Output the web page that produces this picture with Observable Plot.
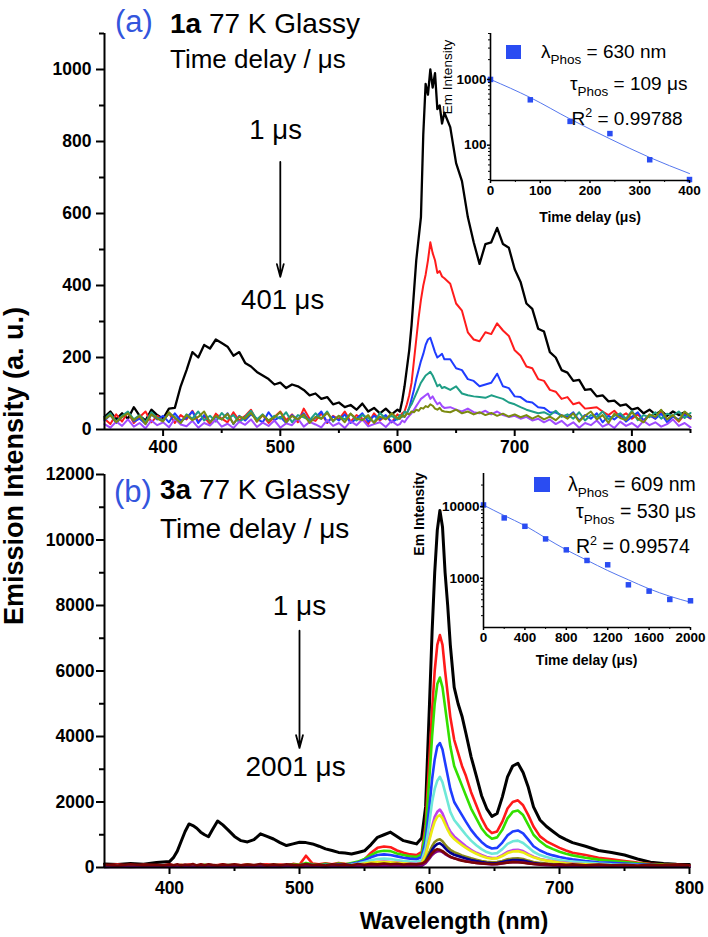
<!DOCTYPE html>
<html><head><meta charset="utf-8">
<script src="https://cdn.jsdelivr.net/npm/d3@7"></script>
<script src="https://cdn.jsdelivr.net/npm/@observablehq/plot@0.6"></script>
<style>
body{margin:0;background:#fff;}
#root{position:relative;width:708px;height:937px;overflow:hidden;font-family:"Liberation Sans",Arial,sans-serif;color:#000;}
.t{position:absolute;white-space:nowrap;line-height:1;}
.t sub{font-size:13.5px;vertical-align:-6px;line-height:1;}
.t sup{font-size:12.5px;vertical-align:8px;line-height:1;}
svg{overflow:visible}
</style></head><body><div id="root"></div>
<script>
// ---------- Panel (a): 1a, delays 1..401 us ----------
const wlA = [350,355,360,365,370,375,380,385,390,395,400,405,410,415,420,425,430,435,440,445,450,455,460,465,470,475,480,485,490,495,500,505,510,515,520,525,530,535,540,545,550,555,560,565,570,575,580,585,590,595,600,
602,604,606,608,610,612,614,616,618,620,622,624,626,628,630,632,634,636,638,640,
645,650,655,660,665,670,675,680,685,690,695,700,705,710,715,720,725,730,735,740,745,750,755,760,765,770,775,780,785,790,795,800,805,810,815,820,825,830,835,840,845,850];
const a1us = [35,50,28,45,30,62,38,25,55,40,30,58,60,
120,165,215,200,235,225,250,240,230,205,215,185,175,160,150,140,125,130,115,125,120,110,95,100,85,90,70,75,62,68,55,72,50,60,45,58,42,55,
50,80,120,170,220,290,380,470,530,590,820,960,930,1000,950,990,890,900,850,880,
840,740,690,590,520,460,515,520,560,515,505,445,410,350,335,280,272,215,200,165,158,135,138,110,112,92,95,78,80,66,70,55,60,45,55,42,52,38,50,40,48,36];
const a81us = [30,15,42,22,48,18,35,50,20,38,25,45,18,40,28,52,22,36,15,44,30,20,48,25,38,55,22,40,18,35,50,26,42,20,58,30,24,45,18,38,28,50,22,40,30,15,45,25,38,20,42,
35,45,50,70,95,130,190,250,310,360,400,430,470,520,490,470,435,440,425,420,
405,350,330,270,250,245,270,265,295,275,260,220,205,175,170,140,135,110,105,85,90,70,75,58,60,62,50,40,52,35,45,30,42,25,40,30,48,28,38,22,42,30];
const a161us = [25,40,18,35,48,22,30,15,42,28,38,20,45,25,32,50,18,40,22,35,28,45,15,38,25,42,30,20,48,26,35,18,40,28,45,22,33,50,20,36,25,42,18,30,45,22,38,28,40,20,30,
30,40,35,45,60,85,110,140,165,190,210,235,250,255,235,215,200,205,210,195,
195,170,165,140,135,120,125,130,155,120,115,92,90,78,75,62,60,48,47,40,35,48,25,40,30,45,20,38,28,42,22,35,48,25,40,30,44,20,36,28,40,32];
const a241us = [30,45,22,38,50,28,40,20,48,32,26,44,35,18,42,30,50,25,38,22,46,30,40,20,35,52,28,42,24,38,30,48,20,40,34,26,45,30,50,22,38,28,44,25,40,32,20,46,30,38,28,
40,35,50,45,60,70,85,100,115,130,140,150,155,160,150,135,120,125,115,118,
110,120,100,95,92,90,88,95,90,85,75,70,62,55,50,45,48,40,52,35,42,30,48,25,40,35,50,28,38,45,30,52,26,40,34,48,30,44,38,50,32,46];
const a321us = [15,5,22,10,28,8,18,3,25,12,20,6,30,14,9,24,5,18,11,27,8,16,4,22,13,28,7,19,10,25,5,17,12,30,8,21,14,6,26,10,18,4,23,12,28,9,15,20,7,24,12,
15,25,20,30,38,45,55,65,75,85,90,95,100,85,92,80,70,75,65,60,
62,55,50,58,48,45,52,42,50,40,35,38,30,35,25,30,20,28,15,24,10,20,5,18,12,25,8,16,4,22,10,18,6,24,12,20,8,15,28,10,18,6];
const a401us = [28,40,20,35,45,25,38,15,42,30,22,48,32,18,40,26,35,50,20,38,28,44,16,36,30,46,22,40,25,34,48,20,38,28,42,18,35,30,46,24,38,20,44,30,26,40,18,36,28,45,32,
30,40,35,45,42,50,48,55,52,60,58,65,62,70,66,58,55,60,52,50,
48,55,45,50,42,48,40,46,38,44,36,42,34,40,30,38,28,36,26,40,30,45,22,38,50,28,40,18,44,32,26,48,30,20,42,35,55,28,40,24,50,35];
const colorsA = ["#000000","#ff1c1c","#1f3cff","#1f9e86","#a14cff","#7b8a10"];

// ---------- Panel (b): 3a, delays 1..2001 us ----------
const wlB = [350,360,370,380,390,395,400,403,406,409,412,415,418,421,424,427,430,433,437,441,445,
450,455,460,465,470,475,480,485,490,495,500,505,510,515,520,525,530,535,540,545,550,555,560,565,570,575,580,585,590,
594,597,600,602,604,606,608,610,612,614,616,619,622,625,628,
632,636,640,644,648,652,656,660,664,668,672,676,680,685,690,695,700,705,710,720,730,740,750,760,770,780,790,800];
const b1us = [110,90,120,100,150,170,180,300,500,800,1100,1330,1280,1200,1080,1000,940,1150,1420,1300,1150,
950,820,780,850,1030,950,870,760,670,720,770,760,720,650,570,520,460,440,410,460,510,700,920,1000,1080,950,820,770,720,
900,1850,5000,7200,9000,10300,10900,10400,9000,8000,6800,5500,5000,4620,4100,
3380,2800,2200,1800,1560,1650,2150,2770,3100,3180,2900,2450,1850,1450,1250,1100,950,850,760,650,520,460,380,260,160,120,100,90];
const b201us = [60,90,50,80,70,60,90,70,50,85,60,90,70,55,95,65,80,60,75,90,60,
85,70,95,60,80,100,75,90,65,110,85,360,120,95,130,100,140,110,90,160,250,450,600,640,620,520,450,400,380,
480,1300,3400,4800,6000,6800,7100,6800,6000,5300,4600,3900,3500,3100,2800,
2300,1900,1500,1200,1050,1100,1400,1800,2000,2050,1900,1600,1250,950,800,700,600,520,450,380,300,250,200,150,110,90,80,70];
const b401us = [50,70,40,60,55,45,70,60,40,75,50,65,45,70,55,80,50,60,65,50,75,
70,55,80,60,75,50,85,65,70,90,80,140,95,70,110,85,120,100,140,180,260,380,480,510,500,430,380,340,320,
400,1100,2800,4000,5000,5600,5800,5500,4900,4300,3700,3100,2800,2500,2200,
1800,1500,1200,1000,880,920,1150,1500,1700,1740,1600,1300,1000,800,650,560,480,420,370,300,240,200,170,130,100,80,70,60];
const b601us = [40,60,35,55,45,50,40,55,35,60,45,50,40,65,45,55,40,50,45,60,40,
55,45,60,40,65,50,55,45,60,70,65,90,75,60,85,70,95,80,110,150,220,310,380,400,380,340,300,270,250,
320,800,1900,2700,3300,3700,3800,3600,3200,2800,2400,2000,1800,1600,1400,
1150,950,780,650,580,600,760,980,1100,1130,1040,850,650,520,430,370,320,280,250,200,160,140,120,100,80,60,55,50];
const b801us = [35,50,30,45,40,30,45,40,30,50,35,45,30,50,40,45,35,40,50,35,45,
40,50,35,55,45,40,50,35,55,45,50,60,45,55,50,65,55,70,90,120,170,220,260,270,260,230,200,180,170,
220,600,1400,2000,2400,2650,2770,2600,2300,2000,1700,1450,1300,1150,1000,
820,680,560,470,420,440,560,720,800,820,750,620,480,380,320,270,230,200,180,150,120,100,90,75,60,50,45,40];
const b1001us = [30,45,25,40,35,40,30,35,45,30,40,25,45,35,30,40,35,45,30,40,35,
45,35,40,30,50,35,45,40,35,50,45,70,50,40,55,45,60,50,65,80,110,140,170,180,170,150,130,120,110,
140,400,900,1250,1550,1700,1770,1650,1450,1250,1100,950,850,750,650,
540,450,380,320,290,300,380,480,530,540,500,410,330,260,220,190,160,140,120,100,85,70,60,50,45,40,35,30];
const b1201us = [25,40,30,45,35,30,40,35,30,45,40,30,40,35,45,30,40,35,40,30,45,
35,40,30,45,35,40,50,35,45,40,50,60,45,55,40,50,45,60,70,90,120,150,165,170,160,140,125,110,100,
130,380,850,1150,1400,1550,1600,1500,1320,1150,1000,870,770,680,600,
500,420,350,300,270,280,350,440,490,500,460,380,310,250,210,180,150,130,115,95,80,70,60,50,45,40,35,30];
const b1401us = [25,35,20,30,28,35,25,30,22,35,28,30,25,35,30,28,32,25,30,35,25,
30,25,35,28,32,25,35,30,28,35,30,40,32,35,30,38,32,40,45,55,70,85,95,100,95,85,75,70,65,
80,220,480,650,780,840,860,800,700,610,540,470,420,370,330,
280,240,200,175,160,165,200,250,275,280,260,210,170,140,120,100,90,80,70,60,50,45,40,35,32,30,28,25];
const b1601us = [20,30,25,28,22,30,25,28,22,30,25,28,22,30,25,28,24,30,25,30,22,
28,24,30,25,28,22,30,26,28,30,25,35,28,30,26,32,28,35,38,45,55,68,75,80,75,68,60,55,52,
65,180,400,540,650,720,740,680,590,510,450,390,350,310,275,
230,195,165,145,130,135,165,205,225,230,210,175,140,115,95,85,75,65,58,50,42,38,34,30,28,26,24,22];
const b1801us = [18,25,20,24,18,22,20,24,18,22,20,25,18,22,20,24,18,22,20,24,18,
22,20,25,18,22,20,24,18,22,25,20,28,22,25,20,26,22,28,30,35,42,50,55,58,55,50,45,42,40,
50,130,280,380,450,490,505,470,410,360,320,280,250,220,195,
165,140,120,105,95,98,120,150,165,168,155,130,105,85,72,62,55,48,43,38,32,28,25,22,20,18,17,16];
const b2001us = [90,60,100,70,85,65,95,70,100,60,90,75,105,65,95,70,100,80,60,95,75,
100,65,90,75,105,60,95,70,100,80,65,105,75,90,60,100,80,95,70,105,85,110,95,120,100,115,90,105,95,
120,180,330,440,520,560,540,500,440,380,330,280,240,210,185,
160,140,125,115,105,110,130,150,165,160,145,125,110,95,105,80,100,75,95,70,90,65,85,60,80,70,75,65];
const colorsB = ["#000000","#ff1a1a","#33e000","#1f3cff","#6fe8d8","#c040ee","#ecec10","#8a8a18","#000090","#800080","#7a0505"];

// ---------- Insets ----------
const inA_t = [0,80,160,240,320,400];
const inA_v = [1000,490,230,150,60,30];
const fitA_t = [0,80,160,240,320,400];
const fitA_v = [1000,530,250,125,65,37];
const inB_t = [0,200,400,600,800,1000,1200,1400,1600,1800,2000];
const inB_v = [10550,6950,5310,3540,2490,1770,1540,809,660,505,484];
const fitB_t = [0,200,400,600,800,1000,1200,1400,1600,1800,2000];
const fitB_v = [10500,7500,5430,3650,2490,1780,1280,950,711,560,462];

// ---------- Ticks ----------
const tickAx = [400,500,600,700,800], minorAx = [450,550,650,750,850];
const tickAy = [0,200,400,600,800,1000], minorAy = [100,300,500,700,900,1100];
const tickBx = [400,500,600,700,800], minorBx = [450,550,650,750];
const tickBy = [0,2000,4000,6000,8000,10000,12000], minorBy = [1000,3000,5000,7000,9000,11000];
const tickIAx = [0,100,200,300,400], minorIAx = [50,150,250,350];
const tickIAy = [100,1000], minorIAy = [30,40,50,60,70,80,90,200,300,400,500,600,700,800,900,2000,3000,4000,5000];
const tickIBx = [0,400,800,1200,1600,2000], minorIBx = [200,600,1000,1400,1800];
const tickIBy = [1000,10000], minorIBy = [300,400,500,600,700,800,900,2000,3000,4000,5000,6000,7000,8000,9000,20000];

// ---------- Helpers ----------
const root = document.getElementById("root");
const FONT = '"Liberation Sans", Arial, sans-serif';
const table = (xs, ys) => xs.map((x, i) => ({x, y: ys[i]}));
function put(el, left, top) { el.style.position = "absolute"; el.style.left = left + "px"; el.style.top = top + "px"; root.appendChild(el); }
function txt(html, left, top, css) { const d = document.createElement("div"); d.className = "t"; d.innerHTML = html; d.style.cssText += css || ""; put(d, left, top); return d; }
const fmt = d => String(d);
const blank = () => "";

// ---------- Main panel (a) ----------
const seriesA = [a1us,a81us,a161us,a241us,a321us,a401us];
const chartA = Plot.plot({
  width: 708, height: 460, marginLeft: 104, marginRight: 18, marginTop: 33, marginBottom: 31,
  x: {domain: [350, 850], label: null}, y: {domain: [0, 1100], label: null},
  style: {fontFamily: FONT, background: "transparent", overflow: "visible", color: "#000", fontSize: "17.5px", fontWeight: "bold"},
  marks: [
    ...seriesA.map((s, i) => Plot.line(table(wlA, s), {x: "x", y: "y", stroke: colorsA[i], strokeWidth: i === 0 ? 2.3 : 2})),
    Plot.ruleX([350], {strokeWidth: 2}), Plot.ruleY([0], {strokeWidth: 2}),
    Plot.axisY(tickAy, {tickSize: 8, tickPadding: 5, tickFormat: fmt, strokeWidth: 2, label: null, fontSize: 17.5, fontWeight: "bold"}),
    Plot.axisY(minorAy, {tickSize: 5, tickFormat: blank, strokeWidth: 2, label: null}),
    Plot.axisX(tickAx, {tickSize: 7, tickPadding: 4, tickFormat: fmt, strokeWidth: 2, label: null, fontSize: 17.5, fontWeight: "bold"}),
    Plot.axisX(minorAx, {tickSize: 4, tickFormat: blank, strokeWidth: 2, label: null}),
    Plot.arrow([{x1: 500, y1: 743, x2: 500, y2: 424}], {x1: "x1", y1: "y1", x2: "x2", y2: "y2", strokeWidth: 1.8, headLength: 11, headAngle: 30}),
    Plot.text([{x: 496, y: 832, t: "1 μs"}, {x: 502, y: 358, t: "401 μs"}], {x: "x", y: "y", text: "t", fontSize: 27.5, fontWeight: "normal"})
  ]
});
put(chartA, 0, 0);

// ---------- Main panel (b) ----------
const seriesB = [b1us,b201us,b401us,b601us,b801us,b1001us,b1201us,b1401us,b1601us,b1801us,b2001us];
const chartB = Plot.plot({
  width: 708, height: 477, marginLeft: 104, marginRight: 19, marginTop: 14, marginBottom: 70,
  x: {domain: [350, 800], label: null}, y: {domain: [0, 12000], label: null},
  style: {fontFamily: FONT, background: "transparent", overflow: "visible", color: "#000", fontSize: "17.5px", fontWeight: "bold"},
  marks: [
    ...seriesB.map((s, i) => Plot.line(table(wlB, s), {x: "x", y: "y", stroke: colorsB[i], strokeWidth: i === 0 ? 3 : 2.6})),
    Plot.ruleX([350], {strokeWidth: 2}), Plot.ruleY([0], {strokeWidth: 2}),
    Plot.axisY(tickBy, {tickSize: 8, tickPadding: 2, tickFormat: fmt, strokeWidth: 2, label: null, fontSize: 17.5, fontWeight: "bold"}),
    Plot.axisY(minorBy, {tickSize: 5, tickFormat: blank, strokeWidth: 2, label: null}),
    Plot.axisX(tickBx, {tickSize: 7, tickPadding: 7, tickFormat: fmt, strokeWidth: 2, label: null, fontSize: 17.5, fontWeight: "bold"}),
    Plot.axisX(minorBx, {tickSize: 4, tickFormat: blank, strokeWidth: 2, label: null}),
    Plot.arrow([{x1: 500, y1: 7230, x2: 500, y2: 3650}], {x1: "x1", y1: "y1", x2: "x2", y2: "y2", strokeWidth: 1.8, headLength: 11, headAngle: 30}),
    Plot.text([{x: 500, y: 7990, t: "1 μs"}, {x: 497, y: 3077, t: "2001 μs"}], {x: "x", y: "y", text: "t", fontSize: 28, fontWeight: "normal"})
  ]
});
put(chartB, 0, 460);

// ---------- Inset (a) ----------
const insetA = Plot.plot({
  width: 300, height: 240, marginLeft: 90, marginRight: 11, marginTop: 33, marginBottom: 60,
  x: {domain: [0, 400], label: null}, y: {type: "log", domain: [29, 5000], label: null},
  style: {fontFamily: FONT, background: "transparent", overflow: "visible", color: "#000", fontSize: "13.5px", fontWeight: "bold"},
  marks: [
    Plot.line(table(fitA_t, fitA_v), {x: "x", y: "y", stroke: "#5577ee", strokeWidth: 1, curve: "monotone-x"}),
    Plot.dot(table(inA_t, inA_v), {x: "x", y: "y", symbol: "square", fill: "#2a4cf2", r: 3.1}),
    Plot.ruleX([0], {strokeWidth: 1.6}), Plot.ruleY([29], {strokeWidth: 1.6}),
    Plot.axisY(tickIAy, {tickSize: 3, tickPadding: 1, tickFormat: fmt, strokeWidth: 1.5, label: null, fontSize: 13.5, fontWeight: "bold"}),
    Plot.axisY(minorIAy, {tickSize: 2, tickFormat: blank, strokeWidth: 1, label: null}),
    Plot.axisX(tickIAx, {tickSize: 3, tickPadding: 2, tickFormat: fmt, strokeWidth: 1.5, label: null, fontSize: 13.5, fontWeight: "bold"}),
    Plot.axisX(minorIAx, {tickSize: 2, tickFormat: blank, strokeWidth: 1, label: null})
  ]
});
put(insetA, 400, 0);

// ---------- Inset (b) ----------
const insetB = Plot.plot({
  width: 300, height: 230, marginLeft: 83, marginRight: 10, marginTop: 13, marginBottom: 63,
  x: {domain: [0, 2000], label: null}, y: {type: "log", domain: [205, 29000], label: null},
  style: {fontFamily: FONT, background: "transparent", overflow: "visible", color: "#000", fontSize: "13.5px", fontWeight: "bold"},
  marks: [
    Plot.line(table(fitB_t, fitB_v), {x: "x", y: "y", stroke: "#5577ee", strokeWidth: 1, curve: "monotone-x"}),
    Plot.dot(table(inB_t, inB_v), {x: "x", y: "y", symbol: "square", fill: "#2a4cf2", r: 3.1}),
    Plot.ruleX([0], {strokeWidth: 1.6}), Plot.ruleY([205], {strokeWidth: 1.6}),
    Plot.axisY(tickIBy, {tickSize: 3, tickPadding: 1, tickFormat: fmt, strokeWidth: 1.5, label: null, fontSize: 13.5, fontWeight: "bold"}),
    Plot.axisY(minorIBy, {tickSize: 2, tickFormat: blank, strokeWidth: 1, label: null}),
    Plot.axisX(tickIBx, {tickSize: 3, tickPadding: 2, tickFormat: fmt, strokeWidth: 1.5, label: null, fontSize: 13.5, fontWeight: "bold"}),
    Plot.axisX(minorIBx, {tickSize: 2, tickFormat: blank, strokeWidth: 1, label: null})
  ]
});
put(insetB, 400, 460);

// ---------- Text overlays ----------
txt("Emission Intensity (a. u.)", 14, 466, "font-size:27px;font-weight:bold;transform:translate(-50%,-50%) rotate(-90deg);");
txt("Wavelength (nm)", 454, 922, "font-size:23.5px;font-weight:bold;transform:translate(-50%,-50%);");
txt("(a)", 115, 5.5, "font-size:31px;color:#3355dd;");
txt("<b>1a</b> 77 K Glassy", 170, 9.6, "font-size:28px;");
txt("Time delay / μs", 170, 46.3, "font-size:26px;");
txt("(b)", 114, 475.5, "font-size:31px;color:#3355dd;");
txt("<b>3a</b> 77 K Glassy", 160, 476.3, "font-size:28px;");
txt("Time delay / μs", 160, 514.6, "font-size:28px;");
txt("Em Intensity", 447.5, 76.5, "font-size:13.5px;transform:translate(-50%,-50%) rotate(-90deg);");
txt("Time delay (μs)", 590, 216.7, "font-size:14px;font-weight:bold;transform:translate(-50%,-50%);");
txt("Em Intensity", 419, 514, "font-size:14px;font-weight:bold;transform:translate(-50%,-50%) rotate(-90deg);");
txt("Time delay (μs)", 586.7, 660, "font-size:14px;font-weight:bold;transform:translate(-50%,-50%);");
function square(left, top, w, h) { const d = document.createElement("div"); d.style.cssText = `width:${w}px;height:${h}px;background:#2a4cf2;`; put(d, left, top); }
square(506, 45, 15, 14);
txt("λ<sub>Phos</sub> = 630 nm", 541, 42.2, "font-size:19px;");
txt("τ<sub>Phos</sub> = 109 μs", 570, 74, "font-size:19px;");
txt("R<sup>2</sup> = 0.99788", 571.5, 106.6, "font-size:19px;");
square(534, 477, 16, 15);
txt("λ<sub>Phos</sub> = 609 nm", 568, 475, "font-size:19.5px;");
txt("τ<sub>Phos</sub> = 530 μs", 576, 501.8, "font-size:19.5px;");
txt("R<sup>2</sup> = 0.99574", 576, 535.2, "font-size:19.5px;");
</script>
</body></html>
